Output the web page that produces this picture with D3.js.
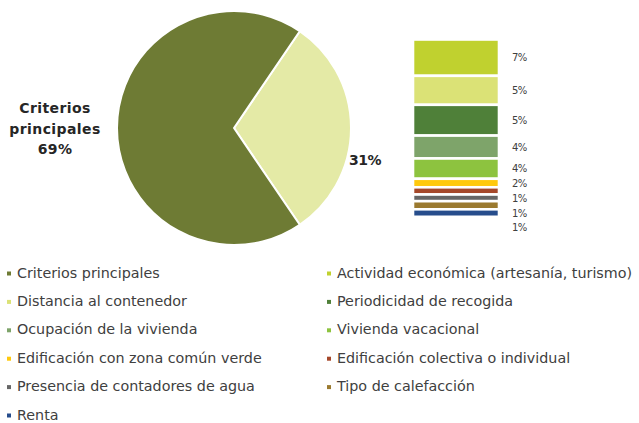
<!DOCTYPE html>
<html>
<head>
<meta charset="utf-8">
<script src="https://cdn.jsdelivr.net/npm/d3@7"></script>
<style>
  html, body { margin: 0; padding: 0; background: #ffffff; }
  svg { display: block; }
</style>
</head>
<body>
<svg id="chart" width="639" height="423"></svg>
<script>
// ---- data ----
const pieCategories = ["Otros criterios", "Criterios principales"];
const pieValues = [31, 69];
const pieColors = ["#e4eaa6", "#6e7b34"];

const barCategories = [
  "Actividad económica (artesanía, turismo)",
  "Distancia al contenedor",
  "Periodicidad de recogida",
  "Ocupación de la vivienda",
  "Vivienda vacacional",
  "Edificación con zona común verde",
  "Edificación colectiva o individual",
  "Presencia de contadores de agua",
  "Tipo de calefacción",
  "Renta"
];
const barValues = [6.35, 5.07, 5.38, 4.0, 3.55, 1.49, 1.26, 1.17, 1.42, 1.31];
const barLabels = ["7%", "5%", "5%", "4%", "4%", "2%", "1%", "1%", "1%", "1%"];
const barColors = ["#c0d12f", "#dbe276", "#4f8039", "#7ea46a", "#8dc33f",
                   "#ffc90e", "#a5482a", "#666666", "#9b7a2f", "#264d8c"];

const legendItems = ["Criterios principales"].concat(barCategories);
const legendColors = ["#6e7b34"].concat(barColors);

// ---- drawing ----
const svg = d3.select("#chart");
const textColor = "#404040";
const font = "'DejaVu Sans', sans-serif";

// Pie
const cx = 234, cy = 128, r = 117;
const smallShare = pieValues[0] / d3.sum(pieValues);
const start = Math.PI / 2 - smallShare * Math.PI;
const pie = d3.pie().sort(null).startAngle(start).endAngle(start + 2 * Math.PI);
const arcs = pie(pieValues);
const arc = d3.arc().innerRadius(0).outerRadius(r);
const gPie = svg.append("g").attr("transform", `translate(${cx},${cy})`);
gPie.selectAll("path").data(arcs).join("path")
  .attr("d", arc)
  .attr("fill", (d, i) => pieColors[i])
  .attr("stroke", "#ffffff")
  .attr("stroke-width", 2)
  .attr("stroke-linejoin", "round");

// small-slice label (outside, right)
const lblArc = d3.arc().innerRadius(r + 14).outerRadius(r + 14);
const c0 = lblArc.centroid(arcs[0]);
gPie.append("text")
  .attr("x", c0[0]).attr("y", c0[1] + 32)
  .attr("text-anchor", "middle").attr("dominant-baseline", "central")
  .attr("font-family", font).attr("font-weight", "bold").attr("font-size", 14)
  .attr("letter-spacing", -0.5)
  .attr("fill", "#262626")
  .text(d3.format(".0f")(pieValues[0]) + "%");

// big-slice label (left of pie)
const bigLines = ["Criterios", "principales", pieValues[1] + "%"];
const gBig = svg.append("g").attr("transform", `translate(${cx - r - 62},${cy - 20})`);
gBig.selectAll("text").data(bigLines).join("text")
  .attr("x", 0).attr("y", (d, i) => i * 20.5)
  .attr("text-anchor", "middle").attr("dominant-baseline", "central")
  .attr("font-family", font).attr("font-weight", "bold").attr("font-size", 14)
  .attr("letter-spacing", 0.4)
  .attr("fill", "#262626")
  .text(d => d);

// Stacked bar
const barX0 = 413, barW = 86;
const total = d3.sum(barValues);
const y = d3.scaleLinear().domain([0, total]).range([39.5, 216.8]);
const cum = [];
barValues.reduce((acc, v) => { cum.push(acc); return acc + v; }, 0);
const gBar = svg.append("g");
gBar.selectAll("rect").data(barValues).join("rect")
  .attr("x", barX0)
  .attr("y", (d, i) => y(cum[i]))
  .attr("width", barW)
  .attr("height", (d, i) => y(cum[i] + d) - y(cum[i]))
  .attr("fill", (d, i) => barColors[i])
  .attr("stroke", "#ffffff")
  .attr("stroke-width", 2.6);

// bar labels with collision avoidance
const labelPos = [];
barValues.forEach((v, i) => {
  const c = y(cum[i] + v / 2);
  const prev = labelPos.length ? labelPos[labelPos.length - 1] : -Infinity;
  labelPos.push(Math.max(c, prev + 14.8));
});
const labelLimit = 236;
gBar.selectAll("text").data(barLabels).join("text")
  .filter((d, i) => labelPos[i] < labelLimit)
  .attr("x", 512)
  .attr("y", (d, i) => labelPos[i])
  .attr("dominant-baseline", "central")
  .attr("font-family", font).attr("font-size", 10)
  .attr("letter-spacing", -0.6)
  .attr("fill", textColor)
  .text(d => d);

// Legend
const legX = [7, 327];
const legY0 = 272.5, legDy = 28.4;
const gLeg = svg.append("g");
const items = gLeg.selectAll("g").data(legendItems).join("g")
  .attr("transform", (d, i) => `translate(${legX[i % 2]},${legY0 + Math.floor(i / 2) * legDy})`);
items.append("rect")
  .attr("x", 0).attr("y", -1).attr("width", 4).attr("height", 4)
  .attr("fill", (d, i) => legendColors[i]);
items.append("text")
  .attr("x", 10).attr("y", 0)
  .attr("dominant-baseline", "central")
  .attr("font-family", font).attr("font-size", 14.3)
  .attr("fill", textColor)
  .text(d => d);
</script>
</body>
</html>
